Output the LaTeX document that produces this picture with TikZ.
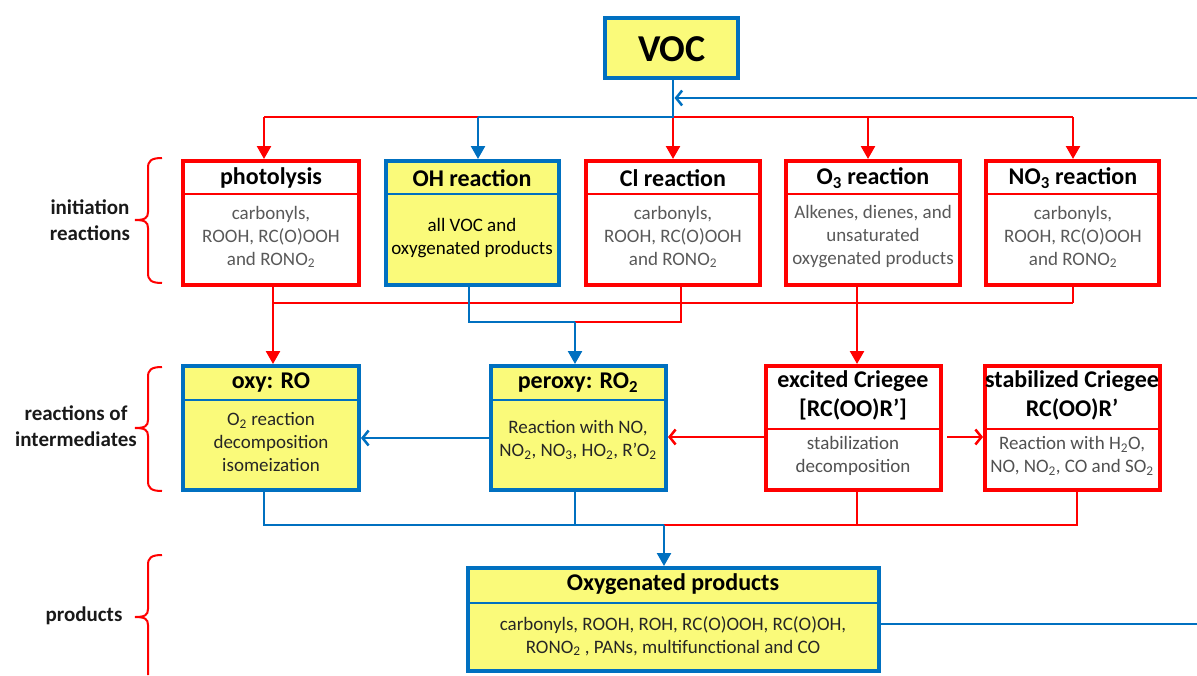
\documentclass[tikz,border=0pt]{standalone}
\usepackage{fontspec}
\setmainfont{Carlito}
\usetikzlibrary{arrows.meta}
\definecolor{myred}{RGB}{255,0,0}
\definecolor{myblue}{RGB}{0,112,192}
\definecolor{myyellow}{RGB}{250,250,122}
\definecolor{txtgray}{RGB}{89,89,89}
\definecolor{txtdark}{RGB}{38,38,38}
\newcommand\mkbox[7]{%
  \node[#2, minimum width={(#5-#3-4)*1pt}, minimum height={(#6-#4-4)*1pt}] (#1) at ({(#3+#5)/2},{(#4+#6)/2}) {};
  \draw[#2div] ({#3+2},{#7}) -- ({#5-2},{#7});
}
\newcommand\mkbrace[3]{%
  \draw[bracestyle] (162,#1) .. controls (151,#1) and (148,#1+3) .. (148,#1+10)
    -- (148,#2-8) .. controls (148,#2-2) and (145,#2) .. (135,#2)
    .. controls (145,#2) and (148,#2+2) .. (148,#2+8)
    -- (148,#3-10) .. controls (148,#3-3) and (151,#3) .. (162,#3);
}
\begin{document}
\begin{tikzpicture}[x=1pt,y=-1pt,
  redbox/.style={draw=myred, line width=4pt, fill=white, inner sep=0pt},
  bluebox/.style={draw=myblue, line width=4pt, fill=myyellow, inner sep=0pt},
  redboxdiv/.style={draw=myred, line width=2pt},
  blueboxdiv/.style={draw=myblue, line width=2pt},
  hdr/.style={font=\fontsize{24}{29}\selectfont\bfseries, align=center, inner sep=0pt, text=black},
  bdy/.style={font=\fontsize{19}{23}\selectfont, align=center, inner sep=0pt},
  lbl/.style={font=\fontsize{21}{26}\selectfont\bfseries, align=center, inner sep=0pt, text=black!90},
  rl/.style={draw=myred, line width=2.5pt},
  bl/.style={draw=myblue, line width=2.5pt},
  dn/.style={-{Triangle[length=13pt,width=14pt]}},
  opn/.style={-{Straight Barb[length=6pt,width=15pt]}},
  bracestyle/.style={draw=myred, line width=2pt},
]
\useasboundingbox (0,0) rectangle (1197,675);

% VOC
\mkbox{voc}{bluebox}{603}{16}{740}{80}{-100}
\node[font=\fontsize{38}{44}\selectfont\bfseries, inner sep=0pt] (voct) at (672,49) {VOC};

% row 1
\mkbox{photo}{redbox}{181}{159}{361}{287}{194}
\mkbox{oh}{bluebox}{384}{159}{561}{287}{194}
\mkbox{cl}{redbox}{584}{159}{762}{287}{194}
\mkbox{othree}{redbox}{784}{159}{962}{287}{194}
\mkbox{nothree}{redbox}{984}{159}{1161}{287}{194}

\node[hdr] (photoh) at (271,178) {photolysis};
\node[bdy, text=txtgray] (photob) at (271,237) {carbonyls,\\ROOH, RC(O)OOH\\and RONO\textsubscript{2}};
\node[hdr] (ohh) at (472,178) {OH reaction};
\node[bdy, text=black] (ohb) at (472,238) {all VOC and\\oxygenated products};
\node[hdr] (clh) at (673,178) {Cl reaction};
\node[bdy, text=txtgray] (clb) at (673,237) {carbonyls,\\ROOH, RC(O)OOH\\and RONO\textsubscript{2}};
\node[hdr] (othreeh) at (873,178) {O\textsubscript{3} reaction};
\node[bdy, text=txtgray] (othreeb) at (873,237) {Alkenes, dienes, and\\unsaturated\\oxygenated products};
\node[hdr] (nothreeh) at (1073,178) {NO\textsubscript{3} reaction};
\node[bdy, text=txtgray] (nothreeb) at (1073,237) {carbonyls,\\ROOH, RC(O)OOH\\and RONO\textsubscript{2}};

% row 2
\mkbox{oxy}{bluebox}{181}{364}{361}{492}{400}
\mkbox{peroxy}{bluebox}{489}{364}{668}{492}{400}
\mkbox{excr}{redbox}{764}{364}{943}{492}{429}
\mkbox{stcr}{redbox}{983}{364}{1162}{492}{429}

\node[hdr] (oxyh) at (271,383) {oxy: RO};
\node[bdy, text=txtdark] (oxyb) at (271,442) {O\textsubscript{2} reaction\\decomposition\\isomeization};
\node[hdr] (peroxyh) at (578,383) {peroxy: RO\textsubscript{2}};
\node[bdy, text=txtdark] (peroxyb) at (578,440) {Reaction with NO,\\NO\textsubscript{2}, NO\textsubscript{3}, HO\textsubscript{2}, R’O\textsubscript{2}};
\node[hdr] (excrh) at (853,395) {excited Criegee\\{}[RC(OO)R’]};
\node[bdy, text=txtdark!80] (excrb) at (853,456) {stabilization\\decomposition};
\node[hdr] (stcrh) at (1072,395) {stabilized Criegee\\RC(OO)R’};
\node[bdy, text=txtdark!80] (stcrb) at (1072,456) {Reaction with H\textsubscript{2}O,\\NO, NO\textsubscript{2}, CO and SO\textsubscript{2}};

% row 3
\mkbox{prod}{bluebox}{466}{566}{881}{673}{603}
\node[hdr] (prodh) at (673,584) {Oxygenated products};
\node[bdy, text=txtdark] (prodb) at (673,636) {carbonyls, ROOH, ROH, RC(O)OOH, RC(O)OH,\\RONO\textsubscript{2} , PANs, multifunctional and CO};

% left labels and braces
\node[lbl] (l1) at (90,220) {initiation\\reactions};
\node[lbl] (l2) at (76,426) {reactions of\\intermediates};
\node[lbl] (l3) at (84,616) {products};
\mkbrace{158}{220}{283}
\mkbrace{367}{428}{491}
\draw[bracestyle] (162,555) .. controls (151,555) and (148,558) .. (148,565)
    -- (148,609) .. controls (148,615) and (145,617) .. (135,617)
    .. controls (145,617) and (148,619) .. (148,625) -- (148,675);

% coordinates
\coordinate (j0) at (673,117);
\coordinate (jl) at (264,117);
\coordinate (joh) at (478,117);
\coordinate (jo3) at (868,117);
\coordinate (jr) at (1073,117);
\coordinate (fbin) at (1197,98);
\coordinate (fbvoc) at (673,98);
\coordinate (fbout) at (1197,624);
\coordinate (r1l) at (273,303);
\coordinate (r1r) at (1073,303);
\coordinate (ohk) at (469,322);
\coordinate (clk) at (681,322);
\coordinate (pk) at (575,322);
\coordinate (r2l) at (264,525);
\coordinate (r2m) at (664,525);
\coordinate (r2p) at (575,525);
\coordinate (r2e) at (857,525);
\coordinate (r2r) at (1077,525);

% top distribution
\draw[rl] (j0) -- (jl);
\draw[rl,dn] (jl) -- (jl |- photo.north);
\draw[rl] (j0) -- (jr);
\draw[rl,dn] (j0) -- (j0 |- cl.north);
\draw[rl,dn] (jo3) -- (jo3 |- othree.north);
\draw[rl,dn] (jr) -- (jr |- nothree.north);
\draw[bl] (voc.south -| j0) -- (j0) -- (joh);
\draw[bl,dn] (joh) -- (joh |- oh.north);
\draw[bl,opn] (fbin) -- ([xshift=1.5pt]fbvoc);

% row1 -> row2
\draw[rl] (r1l) -- (r1r);
\draw[rl] (r1r |- nothree.south) -- (r1r);
\draw[rl,dn] (r1l |- photo.south) -- (r1l |- oxy.north);
\draw[rl,dn] (857,287) -- (857,364);
\draw[rl] (clk |- cl.south) -- (clk) -- (pk);
\draw[bl] (ohk |- oh.south) -- (ohk) -- (pk);
\draw[bl,dn] (pk) -- (pk |- peroxy.north);

% row2 horizontal
\draw[bl,opn] (peroxy.west |- 0,438) -- (oxy.east |- 0,438);
\draw[rl,opn] (excr.west |- 0,437) -- (peroxy.east |- 0,437);
\draw[rl,opn] ([xshift=4pt]excr.east |- 0,437) -- (stcr.west |- 0,437);

% row2 -> row3
\draw[rl] (r2e |- excr.south) -- (r2e);
\draw[rl] (r2r |- stcr.south) -- (r2r) -- (r2m);
\draw[bl] (r2l |- oxy.south) -- (r2l) -- (r2m);
\draw[bl] (r2p |- peroxy.south) -- (r2p);
\draw[bl,dn] (r2m) -- (r2m |- prod.north);

% feedback
\draw[bl] (prod.east |- fbout) -- (fbout);
\end{tikzpicture}
\end{document}
